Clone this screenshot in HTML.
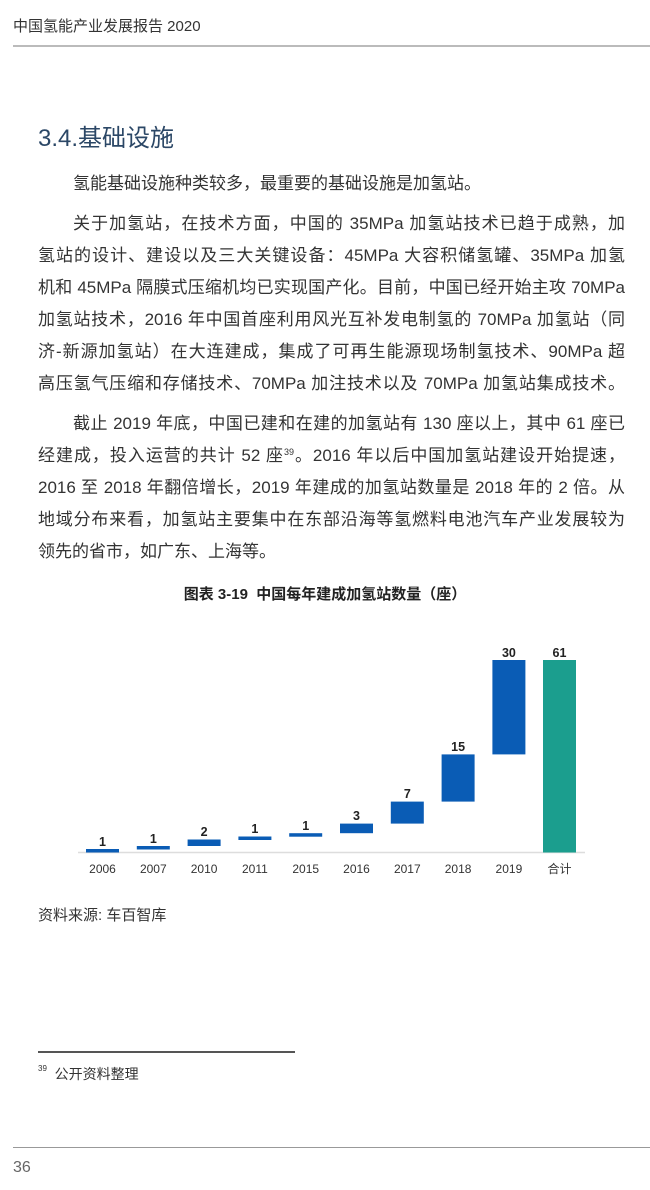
<!DOCTYPE html>
<html><head><meta charset="utf-8"><style>
body{margin:0;width:650px;height:1190px;background:#fff;position:relative;font-family:"Liberation Sans","Noto Sans CJK SC",sans-serif;color:#333;overflow:hidden}
.a{position:absolute;white-space:nowrap}
.l{position:absolute;left:38px;width:587px;font-size:17px;line-height:20px;height:20px;text-align:justify;text-align-last:justify;white-space:nowrap;color:#333}
.l.s{text-align-last:left}
sup{font-size:9px;line-height:0;vertical-align:6px}
</style></head><body>
<div class="a" style="left:13px;top:15px;font-size:15px;color:#333">中国氢能产业发展报告 2020</div>
<div class="a" style="left:13px;top:45px;width:637px;height:2px;background:#bbb"></div>
<div class="a" style="left:38px;top:118px;font-size:24px;color:#2b4766">3.4.基础设施</div>
<div class="l s" style="left:73px;width:552px;top:174px">氢能基础设施种类较多，最重要的基础设施是加氢站。</div>
<div class="l" style="left:73px;width:552px;top:214px">关于加氢站，在技术方面，中国的 35MPa 加氢站技术已趋于成熟，加</div>
<div class="l" style="top:246px">氢站的设计、建设以及三大关键设备：45MPa 大容积储氢罐、35MPa 加氢</div>
<div class="l" style="top:278px">机和 45MPa 隔膜式压缩机均已实现国产化。目前，中国已经开始主攻 70MPa</div>
<div class="l" style="top:310px">加氢站技术，2016 年中国首座利用风光互补发电制氢的 70MPa 加氢站（同</div>
<div class="l" style="top:342px">济-新源加氢站）在大连建成，集成了可再生能源现场制氢技术、90MPa 超</div>
<div class="l" style="top:374px">高压氢气压缩和存储技术、70MPa 加注技术以及 70MPa 加氢站集成技术。</div>
<div class="l" style="left:73px;width:552px;top:414px">截止 2019 年底，中国已建和在建的加氢站有 130 座以上，其中 61 座已</div>
<div class="l" style="top:446px">经建成，投入运营的共计 52 座<sup>39</sup>。2016 年以后中国加氢站建设开始提速，</div>
<div class="l" style="top:478px">2016 至 2018 年翻倍增长，2019 年建成的加氢站数量是 2018 年的 2 倍。从</div>
<div class="l" style="top:510px">地域分布来看，加氢站主要集中在东部沿海等氢燃料电池汽车产业发展较为</div>
<div class="l s" style="top:542px">领先的省市，如广东、上海等。</div>
<div class="a" style="left:0;width:650px;text-align:center;top:583px;font-size:15px;color:#222;font-weight:bold">图表 3-19&nbsp; 中国每年建成加氢站数量（座）</div>
<svg class="a" style="left:0;top:630px" width="650" height="260" viewBox="0 630 650 260" font-family="Liberation Sans, Noto Sans CJK SC, sans-serif">
<line x1="78" y1="852.5" x2="585" y2="852.5" stroke="#ddd" stroke-width="1.5"/>
<g fill="#0a5cb5">
<rect x="86" y="849" width="33" height="3.5"/>
<rect x="136.8" y="846" width="33" height="3.5"/>
<rect x="187.6" y="839.5" width="33" height="6.5"/>
<rect x="238.4" y="836.5" width="33" height="3.5"/>
<rect x="289.2" y="833.2" width="33" height="3.5"/>
<rect x="340" y="823.6" width="33" height="9.6"/>
<rect x="390.8" y="801.6" width="33" height="22"/>
<rect x="441.6" y="754.4" width="33" height="47.2"/>
<rect x="492.4" y="660" width="33" height="94.4"/>
</g>
<rect x="543" y="660" width="33" height="192.5" fill="#1b9e8e"/>
<g font-size="12.5" font-weight="bold" fill="#222" text-anchor="middle">
<text x="102.5" y="846">1</text><text x="153.3" y="843">1</text><text x="204.1" y="836">2</text><text x="254.9" y="833">1</text><text x="305.7" y="830">1</text><text x="356.5" y="820">3</text><text x="407.3" y="798">7</text><text x="458.1" y="751">15</text><text x="508.9" y="657">30</text><text x="559.5" y="657">61</text>
</g>
<g font-size="12" fill="#333" text-anchor="middle">
<text x="102.5" y="873">2006</text><text x="153.3" y="873">2007</text><text x="204.1" y="873">2010</text><text x="254.9" y="873">2011</text><text x="305.7" y="873">2015</text><text x="356.5" y="873">2016</text><text x="407.3" y="873">2017</text><text x="458.1" y="873">2018</text><text x="508.9" y="873">2019</text><text x="559.5" y="873">合计</text>
</g>
</svg>
<div class="a" style="left:38px;top:904px;font-size:15px;color:#333">资料来源: 车百智库</div>
<div class="a" style="left:38px;top:1051px;width:257px;height:2px;background:#555"></div>
<div class="a" style="left:38px;top:1064px;font-size:14px;color:#333"><span style="font-size:8px;vertical-align:top">39</span>&nbsp; 公开资料整理</div>
<div class="a" style="left:13px;top:1147px;width:637px;height:1px;background:#999"></div>
<div class="a" style="left:13px;top:1159px;font-size:16px;color:#666">36</div>
</body></html>
